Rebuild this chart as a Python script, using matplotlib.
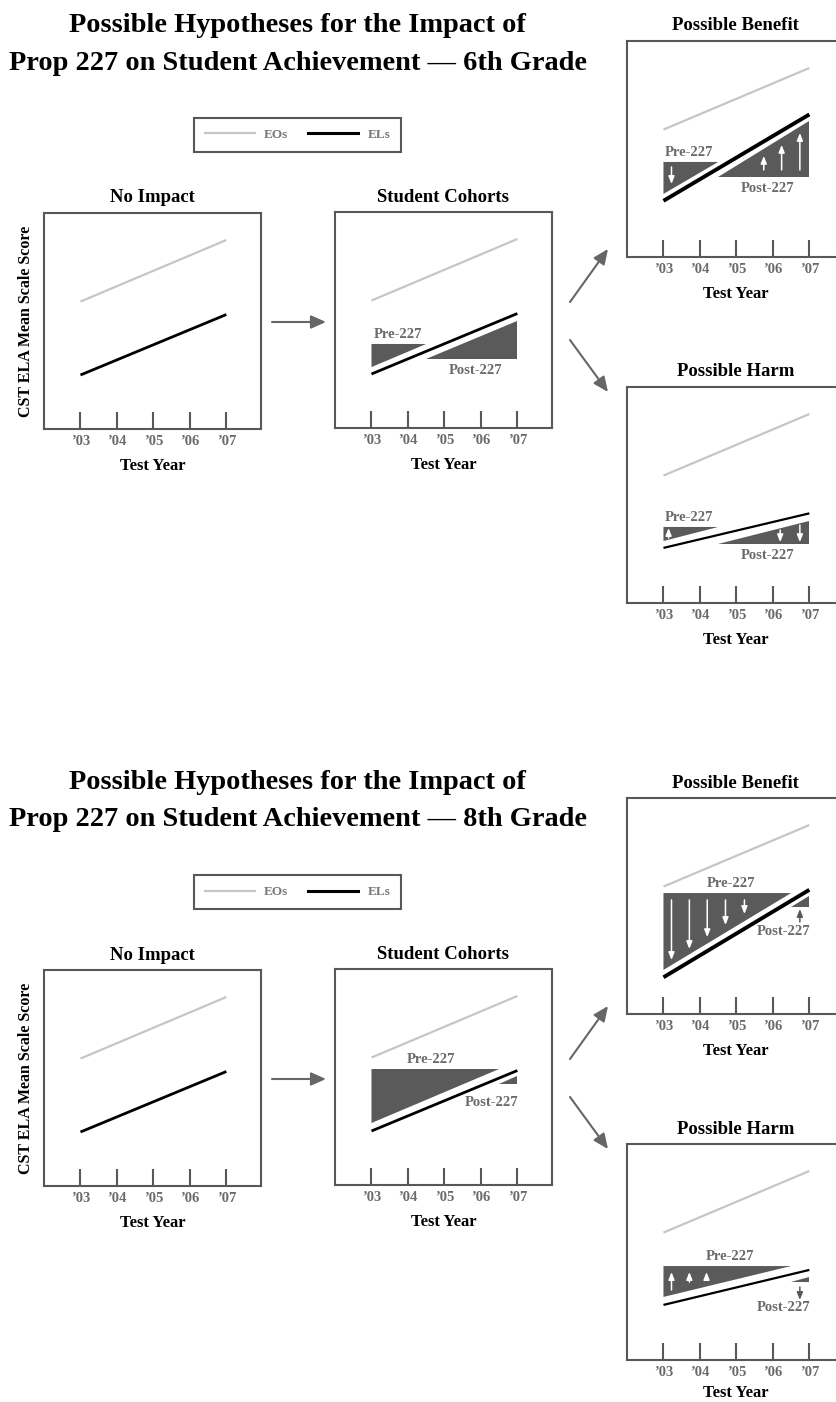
import matplotlib
matplotlib.use("Agg")
import matplotlib.pyplot as plt
from matplotlib.lines import Line2D
from matplotlib.patches import FancyArrowPatch, Polygon

plt.rcParams["font.family"] = ["Liberation Serif", "DejaVu Serif"]
plt.rcParams["font.weight"] = "bold"
plt.rcParams["axes.labelweight"] = "bold"

# ---- data ---------------------------------------------------------------
YEARS = [2003, 2004, 2005, 2006, 2007]
YEAR_LABELS = ["\u201903", "\u201904", "\u201905", "\u201906", "\u201907"]
ENDS = [2003, 2007]

EO_SCORE = [59, 87.5]            # EOs, '03 -> '07
EL_SCORE = [25, 53]              # ELs, no impact / cohorts
G6_EL_BENEFIT = [26, 66]
G6_EL_HARM = [25.5, 41.5]
G8_EL_BENEFIT = [17, 57.5]
G8_EL_HARM = [25.5, 41.7]

G6_COHORT_PRE = [(2003, 38.9), (2004.5, 38.9), (2003, 28.2)]
G6_COHORT_POST = [(2004.5, 31.9), (2007, 31.9), (2007, 49.5)]
G6_BENEFIT_PRE = [(2003, 44.0), (2004.5, 44.0), (2003, 29.2)]
G6_BENEFIT_POST = [(2004.5, 37.0), (2007, 37.0), (2007, 63.0)]
G6_HARM_PRE = [(2003, 35.2), (2004.5, 35.2), (2003, 28.7)]
G6_HARM_POST = [(2004.5, 27.3), (2007, 27.3), (2007, 38.0)]

G8_COHORT_PRE = [(2003, 53.7), (2006.5, 53.7), (2003, 28.7)]
G8_COHORT_POST = [(2006.5, 46.8), (2007, 46.8), (2007, 50.5)]
G8_BENEFIT_PRE = [(2003, 56.0), (2006.5, 56.0), (2003, 20.4)]
G8_BENEFIT_POST = [(2006.5, 49.5), (2007, 49.5), (2007, 54.6)]
G8_HARM_PRE = [(2003, 43.5), (2006.5, 43.5), (2003, 29.2)]
G8_HARM_POST = [(2006.5, 36.2), (2007, 36.2), (2007, 38.3)]

# change arrows: (x, from, to)
G6_BENEFIT_WHITE = [(2003.22, 41.7, 33.8), (2005.75, 40.3, 46.8),
                    (2006.24, 40.3, 51.9), (2006.74, 40.3, 57.4)]
G6_HARM_WHITE = [(2003.14, 30.1, 34.7), (2006.2, 33.8, 28.2),
                 (2006.74, 36.1, 28.2)]
G8_BENEFIT_WHITE = [(2003.22, 52.8, 25.0), (2003.71, 52.8, 30.1),
                    (2004.2, 52.8, 35.6), (2004.7, 52.8, 41.2),
                    (2005.22, 52.8, 46.3)]
G8_BENEFIT_DARK = [(2006.74, 42.6, 48.6)]
G8_HARM_WHITE = [(2003.22, 32.4, 40.7), (2003.71, 36.1, 40.7),
                 (2004.18, 38.0, 40.7)]
G8_HARM_DARK = [(2006.74, 33.8, 27.8)]

# ---- style / layout -----------------------------------------------------
W, H = 837, 1402
BOX_W, BOX_H = 217, 216
FRAME = "#585858"
EO_C = "#c6c6c6"
FILL = "#5a5a5a"
LABEL_C = "#6a6a6a"
BOLD = "bold"

fig = plt.figure(figsize=(W / 100, H / 100), dpi=100)


def px_axes(left, top):
    return fig.add_axes([left / W, 1 - (top + BOX_H) / H, BOX_W / W, BOX_H / H])


def panel(left, top, title, el, el_lw, pre=None, post=None,
          labels=None, white=(), dark=(), ylabel=False, xlab_off=37):
    ax = px_axes(left, top)
    ax.set_xlim(2002.0, 2007.95)
    ax.set_ylim(0, 100)
    for s in ax.spines.values():
        s.set_color(FRAME)
        s.set_linewidth(1.5)
    ax.set_xticks(YEARS, YEAR_LABELS, fontweight=BOLD)
    ax.tick_params(axis="x", direction="in", length=12, width=1.5,
                   color=FRAME, labelcolor=LABEL_C, labelsize=10.5, pad=4)
    ax.set_yticks([])
    ax.plot(ENDS, EO_SCORE, color=EO_C, lw=1.6, solid_capstyle="butt")
    ax.plot(ENDS, el, color="black", lw=el_lw, solid_capstyle="butt")
    if pre is not None:
        ax.add_patch(Polygon(pre, closed=True, facecolor=FILL, edgecolor="none"))
        ax.add_patch(Polygon(post, closed=True, facecolor=FILL, edgecolor="none"))
    if labels is not None:
        for txt, (x, y) in zip(["Pre-227", "Post-227"], labels):
            ax.text(x, y, txt, color=LABEL_C, fontsize=10.5, fontweight=BOLD,
                    ha="center", va="center")
    for arrows, col in ((white, "white"), (dark, FRAME)):
        for x, y0, y1 in arrows:
            ax.annotate("", xy=(x, y1), xytext=(x, y0),
                        arrowprops=dict(arrowstyle="-|>,head_length=0.55,head_width=0.22",
                                        color=col, lw=1.1, shrinkA=0, shrinkB=0,
                                        mutation_scale=8))
    ax.text(0.5, 1 + 15 / BOX_H, title, transform=ax.transAxes,
            ha="center", va="center", fontsize=13.5, fontweight=BOLD)
    ax.set_xlabel("Test Year", fontsize=12, fontweight=BOLD, va="center")
    ax.xaxis.set_label_coords(0.5, -xlab_off / BOX_H)
    if ylabel:
        ax.set_ylabel("CST ELA Mean Scale Score", fontsize=11.5,
                      fontweight=BOLD, va="center")
        ax.yaxis.set_label_coords(-18 / BOX_W, 0.5)


def connector(p0, p1):
    fig.add_artist(FancyArrowPatch(
        (p0[0] / W, 1 - p0[1] / H), (p1[0] / W, 1 - p1[1] / H),
        transform=fig.transFigure, arrowstyle="-|>,head_length=0.9,head_width=0.4",
        mutation_scale=10, color="#666666", lw=1.5, shrinkA=0, shrinkB=0))


def grade_block(dy, grade, cohort, benefit, harm, harm_xlab=37):
    fig.text(297 / W, 1 - (26 + dy) / H, "Possible Hypotheses for the Impact of",
             ha="center", va="center", fontsize=20.4, fontweight=BOLD)
    fig.text(298 / W, 1 - (63 + dy) / H,
             f"Prop 227 on Student Achievement \u2014 {grade} Grade",
             ha="center", va="center", fontsize=20.4, fontweight=BOLD)
    panel(44, 213 + dy, "No Impact", EL_SCORE, 2.0, ylabel=True)
    panel(335, 212 + dy, "Student Cohorts", EL_SCORE, 2.0, **cohort)
    panel(627, 41 + dy, "Possible Benefit", benefit.pop("el"), 2.8, **benefit)
    panel(627, 387 + dy, "Possible Harm", harm.pop("el"), 1.6,
          xlab_off=harm_xlab, **harm)
    leg = fig.legend([Line2D([], [], color=EO_C, lw=1.6),
                      Line2D([], [], color="black", lw=2.2)],
                     ["EOs", "ELs"], ncol=2, loc="center",
                     bbox_to_anchor=(297.5 / W, 1 - (135 + dy) / H),
                     handlelength=3.8, handletextpad=0.7,
                     columnspacing=1.5, borderpad=0.8, fancybox=False,
                     framealpha=1, edgecolor=FRAME, labelcolor="#777777",
                     prop={"weight": "bold", "size": 9.5})
    leg.get_frame().set_linewidth(1.5)
    connector((272, 322 + dy), (326, 322 + dy))
    connector((570, 302 + dy), (608, 249 + dy))
    connector((570, 340 + dy), (608, 392 + dy))


grade_block(
    0, "6th",
    dict(pre=G6_COHORT_PRE, post=G6_COHORT_POST,
         labels=[(2003.72, 43.1), (2005.86, 26.4)]),
    dict(el=G6_EL_BENEFIT, pre=G6_BENEFIT_PRE, post=G6_BENEFIT_POST,
         labels=[(2003.69, 48.6), (2005.86, 31.9)], white=G6_BENEFIT_WHITE),
    dict(el=G6_EL_HARM, pre=G6_HARM_PRE, post=G6_HARM_POST,
         labels=[(2003.69, 39.8), (2005.86, 22.2)], white=G6_HARM_WHITE),
)
grade_block(
    757, "8th",
    dict(pre=G8_COHORT_PRE, post=G8_COHORT_POST,
         labels=[(2004.63, 57.9), (2006.28, 38.0)]),
    dict(el=G8_EL_BENEFIT, pre=G8_BENEFIT_PRE, post=G8_BENEFIT_POST,
         labels=[(2004.86, 60.2), (2006.3, 38.0)], white=G8_BENEFIT_WHITE,
         dark=G8_BENEFIT_DARK),
    dict(el=G8_EL_HARM, pre=G8_HARM_PRE, post=G8_HARM_POST,
         labels=[(2004.83, 47.7), (2006.28, 24.5)], white=G8_HARM_WHITE,
         dark=G8_HARM_DARK),
    harm_xlab=33,
)

fig.savefig("out.png", dpi=100)
